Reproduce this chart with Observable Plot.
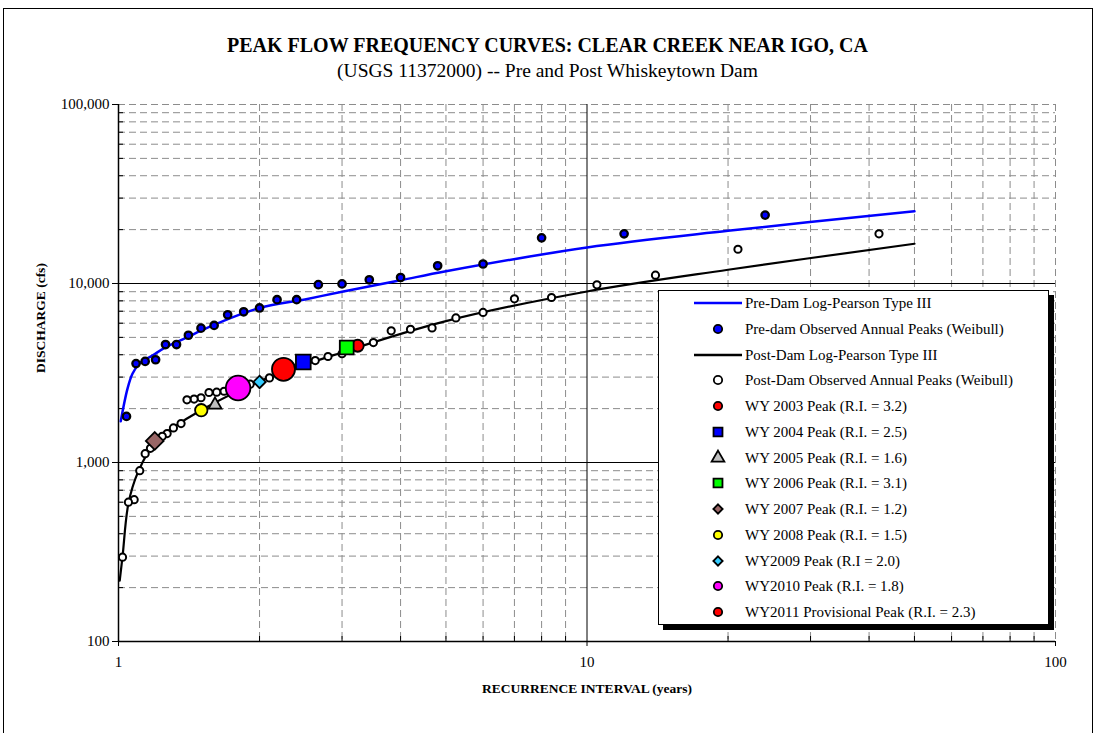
<!DOCTYPE html>
<html><head><meta charset="utf-8">
<script src="https://cdn.jsdelivr.net/npm/d3@7"></script>
<script src="https://cdn.jsdelivr.net/npm/@observablehq/plot@0.6"></script>
<style>
body{margin:0;background:#fff;font-family:"Liberation Serif","Times New Roman",serif;color:#000;}
#page{position:relative;width:1095px;height:733px;overflow:hidden;background:#fff;}
#frame{position:absolute;left:3px;top:8px;width:1090px;height:760px;border:1px solid #000;box-sizing:border-box;}
#title{position:absolute;left:0;width:1095px;top:34px;line-height:22px;text-align:center;font-weight:bold;font-size:20px;}
#subtitle{position:absolute;left:0;width:1095px;top:60px;line-height:22px;text-align:center;font-size:19.5px;}
#chart{position:absolute;left:0;top:90px;}
#legend{position:absolute;left:658px;top:290px;width:391px;height:335px;border:1px solid #000;background:#fff;box-shadow:5px 5px 0 #000;box-sizing:border-box;}
.lrow{position:absolute;left:0;height:20px;width:100%;}
.lrow span{position:absolute;left:86px;top:0;line-height:20px;font-size:15px;white-space:nowrap;}
</style></head>
<body>
<div id="page">
  <div id="frame"></div>
  <div id="title">PEAK FLOW FREQUENCY CURVES: CLEAR CREEK NEAR IGO, CA</div>
  <div id="subtitle">(USGS 11372000) -- Pre and Post Whiskeytown Dam</div>
  <div id="chart"></div>
  <div id="legend"></div>
</div>
<script>
// ---- Data ----
const xMajorTicks = [1, 10, 100];
const xMinorTicks = [2, 3, 4, 5, 6, 7, 8, 9, 20, 30, 40, 50, 60, 70, 80, 90];
const yMajorTicks = [100, 1000, 10000, 100000];
const yMinorTicks = [200, 300, 400, 500, 600, 700, 800, 900, 2000, 3000, 4000, 5000, 6000, 7000, 8000, 9000, 20000, 30000, 40000, 50000, 60000, 70000, 80000, 90000];

// Pre-dam Log-Pearson Type III curve
const preCurveRI = [1.011, 1.045, 1.071, 1.107, 1.182, 1.262, 1.415, 1.5, 2, 2.5, 3, 4, 5, 10, 20, 50];
const preCurveQ  = [1700, 2580, 3130, 3560, 3960, 4410, 5060, 5460, 7300, 8150, 8990, 10420, 11700, 15900, 19700, 25300];

// Pre-dam observed annual peaks (Weibull)
const preRI = [24, 12, 8, 6, 4.8, 4, 3.43, 3, 2.67, 2.4, 2.18, 2, 1.85, 1.71, 1.6, 1.5, 1.41, 1.33, 1.26, 1.2, 1.14, 1.09, 1.04];
const preQ  = [24100, 18950, 18000, 12850, 12560, 10800, 10490, 9950, 9850, 8120, 8120, 7300, 6950, 6690, 5830, 5630, 5140, 4560, 4560, 3750, 3670, 3570, 1810];

// Post-dam Log-Pearson Type III curve
const postCurveRI = [1.006, 1.02, 1.05, 1.1, 1.2, 1.3, 1.5, 2, 3, 5, 10, 20, 50];
const postCurveQ  = [219, 298, 590, 880, 1310, 1550, 1960, 2840, 4120, 6160, 9020, 11930, 16670];

// Post-dam observed annual peaks (Weibull)
const postRI = [42, 21, 14, 10.5, 8.4, 7, 6, 5.25, 4.67, 4.2, 3.82, 3.5, 3.23, 3.0, 2.8, 2.63, 2.47, 2.33, 2.21, 2.1, 2.0, 1.91, 1.83, 1.75, 1.68, 1.62, 1.56, 1.5, 1.45, 1.4, 1.36, 1.31, 1.27, 1.24, 1.2, 1.17, 1.14, 1.11, 1.08, 1.05, 1.02];
const postQ  = [18950, 15540, 11130, 9830, 8350, 8210, 6890, 6420, 5650, 5550, 5440, 4680, 4490, 4050, 3910, 3710, 3640, 3450, 3300, 2970, 2820, 2740, 2610, 2540, 2500, 2470, 2460, 2300, 2260, 2240, 1650, 1560, 1450, 1400, 1320, 1200, 1120, 900, 620, 600, 296];

// Water-year peaks
const wyLabels = ["WY 2003 Peak (R.I. = 3.2)", "WY 2004 Peak (R.I. = 2.5)", "WY 2005 Peak (R.I. = 1.6)", "WY 2006 Peak (R.I. = 3.1)", "WY 2007 Peak (R.I. = 1.2)", "WY 2008 Peak (R.I. = 1.5)", "WY2009 Peak (R.I = 2.0)", "WY2010 Peak (R.I. = 1.8)", "WY2011 Provisional Peak (R.I. = 2.3)"];
const wyRI = [3.24, 2.48, 1.607, 3.07, 1.195, 1.502, 2.0, 1.8, 2.25];
const wyQ  = [4490, 3640, 2100, 4390, 1320, 1960, 2820, 2608, 3317];

const seriesLabels = ["Pre-Dam Log-Pearson Type III", "Pre-dam Observed Annual Peaks (Weibull)", "Post-Dam Log-Pearson Type III", "Post-Dam Observed Annual Peaks (Weibull)"];

// ---- Styles (kept apart from data) ----
const wyStyle = [
  {symbol: "circle", fill: "#ff0000", r: 6},
  {symbol: "square", fill: "#0000ff", r: 8.3},
  {symbol: "triangle", fill: "#c0c0c0", r: 4.8},
  {symbol: "square", fill: "#00ff00", r: 7.8},
  {symbol: "diamond2", fill: "#996666", r: 8},
  {symbol: "circle", fill: "#ffff00", r: 6.2},
  {symbol: "diamond2", fill: "#33ccff", r: 5.6},
  {symbol: "circle", fill: "#ff00ff", r: 12.3},
  {symbol: "circle", fill: "#ff0000", r: 11.5}
];
const serif = "'Liberation Serif', 'Times New Roman', serif";

// ---- Tables built from the arrays ----
const preCurve = preCurveRI.map((x, i) => ({x, y: preCurveQ[i]}));
const postCurve = postCurveRI.map((x, i) => ({x, y: postCurveQ[i]}));
const prePts = preRI.map((x, i) => ({x, y: preQ[i]}));
const postPts = postRI.map((x, i) => ({x, y: postQ[i]}));
const wyPts = wyRI.map((x, i) => ({x, y: wyQ[i], label: wyLabels[i]}));

const grid = {stroke: "#8c8c8c", strokeDasharray: "7,4", strokeWidth: 1};

const chart = Plot.plot({
  width: 1095, height: 643,
  marginLeft: 118, marginRight: 40, marginTop: 14, marginBottom: 92,
  style: {fontFamily: serif, fontSize: "15px", color: "#000", background: "transparent", overflow: "visible"},
  x: {type: "log", domain: [1, 100]},
  y: {type: "log", domain: [100, 100000]},
  marks: [
    Plot.ruleX(xMinorTicks.concat([100]), grid),
    Plot.ruleY(yMinorTicks.concat([100000]), grid),
    Plot.ruleX([10], {stroke: "#000", strokeWidth: 1}),
    Plot.ruleY([1000, 10000], {stroke: "#000", strokeWidth: 1}),
    Plot.ruleX([1], {stroke: "#000", strokeWidth: 1.5}),
    Plot.ruleY([100], {stroke: "#000", strokeWidth: 1.5}),
    Plot.axisX({ticks: xMajorTicks, tickSize: 5, tickPadding: 10, tickFormat: d => String(d), label: null, fontSize: 15, fontFamily: serif}),
    Plot.axisX({ticks: xMinorTicks, tickSize: 5, dy: -5, text: null, label: null}),
    Plot.axisY({ticks: yMajorTicks, tickSize: 6, tickPadding: 3, tickFormat: d3.format(","), label: null, fontSize: 15, fontFamily: serif}),
    Plot.axisY({ticks: yMinorTicks, tickSize: 5, dx: 5, text: null, label: null}),
    Plot.text(["DISCHARGE (cfs)"], {frameAnchor: "left", rotate: -90, dx: -78, fontWeight: "bold", fontSize: 13.5, fontFamily: serif}),
    Plot.text(["RECURRENCE INTERVAL (years)"], {frameAnchor: "bottom", dy: 51, fontWeight: "bold", fontSize: 13.5, fontFamily: serif}),
    Plot.line(preCurve, {x: "x", y: "y", stroke: "#0000ff", strokeWidth: 2.5, curve: "catmull-rom"}),
    Plot.line(postCurve, {x: "x", y: "y", stroke: "#000", strokeWidth: 2.2, curve: "catmull-rom"}),
    Plot.dot(prePts, {x: "x", y: "y", r: 3.7, fill: "#0000ff", stroke: "#000", strokeWidth: 2.3}),
    Plot.dot(postPts, {x: "x", y: "y", r: 3.6, fill: "#fff", stroke: "#000", strokeWidth: 2}),
    ...wyPts.map((d, i) => Plot.dot([d], {x: "x", y: "y", symbol: wyStyle[i].symbol, r: wyStyle[i].r, fill: wyStyle[i].fill, stroke: "#000", strokeWidth: 1.8, title: "label"}))
  ]
});
document.getElementById("chart").appendChild(chart);

// ---- Legend ----
const symMap = {circle: d3.symbolCircle, square: d3.symbolSquare, triangle: d3.symbolTriangle, diamond2: d3.symbolDiamond2};
const legendRows = [
  {label: seriesLabels[0], line: "#0000ff"},
  {label: seriesLabels[1], symbol: "circle", fill: "#0000ff"},
  {label: seriesLabels[2], line: "#000"},
  {label: seriesLabels[3], symbol: "circle", fill: "#fff"},
  ...wyLabels.map((label, i) => ({label, symbol: wyStyle[i].symbol, fill: wyStyle[i].fill}))
];
const legendSize = {circle: 55, square: 80, triangle: 70, diamond2: 55};
const legend = document.getElementById("legend");
legendRows.forEach((row, i) => {
  const div = document.createElement("div");
  div.className = "lrow";
  div.style.top = (12.3 + i * 25.72 - 10) + "px";
  const svg = d3.create("svg").attr("width", 90).attr("height", 20)
    .style("position", "absolute").style("left", "0px").style("top", "0px");
  if (row.line) {
    svg.append("line").attr("x1", 35).attr("x2", 83).attr("y1", 10).attr("y2", 10)
      .attr("stroke", row.line).attr("stroke-width", 2.5);
  } else {
    svg.append("path").attr("transform", "translate(59,10)")
      .attr("d", d3.symbol(symMap[row.symbol], legendSize[row.symbol])())
      .attr("fill", row.fill).attr("stroke", "#000").attr("stroke-width", 1.8);
  }
  div.appendChild(svg.node());
  const span = document.createElement("span");
  span.textContent = row.label;
  div.appendChild(span);
  legend.appendChild(div);
});
</script>
</body></html>
